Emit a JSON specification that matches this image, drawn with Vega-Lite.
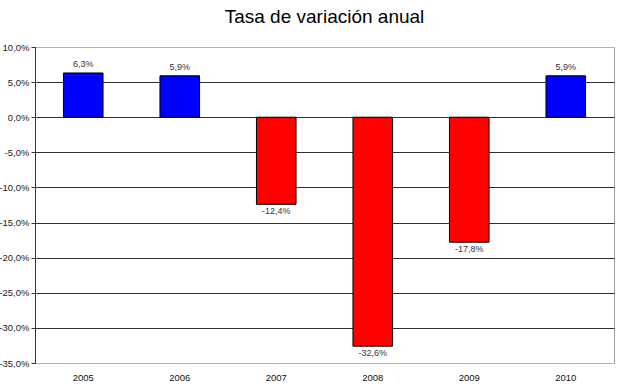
{
  "$schema": "https://vega.github.io/schema/vega-lite/v6.json",
  "autosize": {"type": "none"},
  "width": 579,
  "height": 316,
  "padding": {"left": 35, "top": 47, "right": 6, "bottom": 24},
  "background": "white",
  "title": {
    "text": "Tasa de variación anual",
    "font": "Liberation Sans",
    "fontSize": 19,
    "fontWeight": "normal",
    "color": "#000000",
    "anchor": "middle",
    "offset": 0,
    "dy": 4,
    "baseline": "bottom"
  },
  "config": {
    "locale": {
      "number": {"decimal": ",", "thousands": ".", "grouping": [3], "currency": ["", " €"], "minus": "-"}
    },
    "view": {"stroke": "#a0a0a0", "strokeWidth": 1},
    "font": "Liberation Sans"
  },
  "data": {
    "values": [
      {"year": "2005", "v": 0.063},
      {"year": "2006", "v": 0.059},
      {"year": "2007", "v": -0.124},
      {"year": "2008", "v": -0.326},
      {"year": "2009", "v": -0.178},
      {"year": "2010", "v": 0.059}
    ]
  },
  "encoding": {
    "x": {
      "field": "year",
      "type": "nominal",
      "scale": {"paddingInner": 0.59, "paddingOuter": 0.295},
      "axis": {
        "title": null,
        "labelAngle": 0,
        "domain": false,
        "ticks": false,
        "labelPadding": 9,
        "labelFontSize": 9.5,
        "labelFont": "Liberation Sans",
        "labelColor": "#111111"
      }
    }
  },
  "layer": [
    {
      "mark": {"type": "bar", "stroke": "#000000", "strokeWidth": 1},
      "encoding": {
        "y": {
          "field": "v",
          "type": "quantitative",
          "scale": {"domain": [-0.35, 0.1], "nice": false, "zero": false},
          "axis": {
            "title": null,
            "format": ".1%",
            "values": [-0.35, -0.3, -0.25, -0.2, -0.15, -0.1, -0.05, 0, 0.05, 0.1],
            "tickCount": 20,
            "labelOverlap": false,
            "domainColor": "#333333",
            "tickColor": "#333333",
            "tickSize": 4,
            "labelPadding": 2,
            "labelFontSize": 9.5,
            "labelFont": "Liberation Sans",
            "labelColor": "#222222",
            "gridColor": {"condition": {"test": "datum.value > 0.09 || datum.value < -0.34", "value": "#b0b0b0"}, "value": "#303030"},
            "gridOpacity": 1
          }
        },
        "color": {
          "condition": {"test": "datum.v < 0", "value": "#ff0000"},
          "value": "#0000ff"
        }
      }
    },
    {
      "transform": [{"filter": "datum.v >= 0"}],
      "mark": {"type": "text", "baseline": "bottom", "dy": -4, "fontSize": 9, "font": "Liberation Sans", "color": "#333333"},
      "encoding": {
        "y": {"field": "v", "type": "quantitative"},
        "text": {"field": "v", "type": "quantitative", "format": ".1%"}
      }
    },
    {
      "transform": [{"filter": "datum.v < 0"}],
      "mark": {"type": "text", "baseline": "top", "dy": 3, "fontSize": 9, "font": "Liberation Sans", "color": "#333333"},
      "encoding": {
        "y": {"field": "v", "type": "quantitative"},
        "text": {"field": "v", "type": "quantitative", "format": ".1%"}
      }
    }
  ]
}
